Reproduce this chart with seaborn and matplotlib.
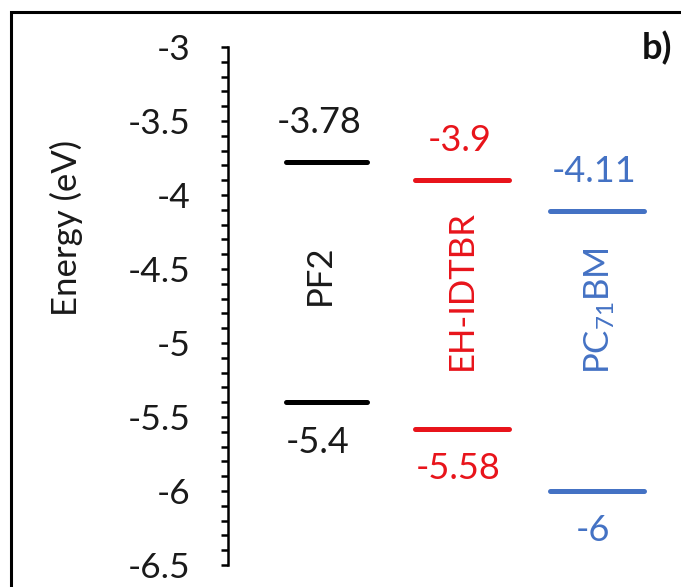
import numpy as np
import pandas as pd
import matplotlib
matplotlib.use("Agg")
import matplotlib.pyplot as plt
from matplotlib.patches import Rectangle
from matplotlib.ticker import MultipleLocator
import seaborn as sns

# Niveles de energia (eV)
materials = ["PF2", "EH-IDTBR", "PC71BM"]
labels = ["PF2", "EH-IDTBR", r"PC$_{71}$BM"]
lumo = [-3.78, -3.9, -4.11]
homo = [-5.4, -5.58, -6.0]
lumo_txt = ["-3.78", "-3.9", "-4.11"]
homo_txt = ["-5.4", "-5.58", "-6"]
colors = ["#000000", "#E8141B", "#4472C4"]

sns.set_style("ticks")
plt.rcParams["font.family"] = ["Lato", "DejaVu Sans"]
plt.rcParams["mathtext.fontset"] = "custom"
plt.rcParams["mathtext.rm"] = "Lato"
plt.rcParams["mathtext.it"] = "Lato:italic"

# segmentos horizontales en formato largo
half_w = [0.30, 0.35, 0.35]
rows = []
for i, m in enumerate(materials):
    for lvl, y in (("lumo", lumo[i]), ("homo", homo[i])):
        rows.append({"mat": m, "lvl": m + lvl, "x": i - half_w[i], "E": y})
        rows.append({"mat": m, "lvl": m + lvl, "x": i + half_w[i], "E": y})
df = pd.DataFrame(rows)

fig = plt.figure(figsize=(6.81, 5.87), dpi=100)
ax = fig.add_axes([228 / 681, 22 / 587, 447 / 681, 518 / 587])

sns.lineplot(data=df, x="x", y="E", hue="mat", units="lvl", estimator=None,
             palette=dict(zip(materials, colors)), lw=3.6,
             solid_capstyle="round", legend=False, ax=ax)

ax.set_xlim(-0.733, 2.578)
ax.set_ylim(-6.5, -3)
ax.yaxis.set_major_locator(MultipleLocator(0.5))
ax.yaxis.set_minor_locator(MultipleLocator(0.1))
ax.yaxis.set_major_formatter(plt.FuncFormatter(lambda v, p: f"{v:g}"))
ax.tick_params(axis="y", which="both", length=5, width=1.8, direction="out",
               pad=22, labelsize=25.5, color="black", labelcolor="#1a1a1a")
ax.spines["left"].set_linewidth(1.8)
ax.spines["left"].set_color("black")
for s in ["top", "right", "bottom"]:
    ax.spines[s].set_visible(False)
ax.set_xticks([])
ax.set_xlabel("")
ax.set_ylabel("Energy (eV)", fontsize=25, color="#1a1a1a")
ax.yaxis.set_label_coords(-0.325, 0.65)

label_pos = [(-0.05, -4.54), (1.0, -4.64), (2.02, -4.78)]
for i in range(3):
    c = colors[i] if i else "#1a1a1a"
    ax.text(i - 0.06 if i == 0 else i - 0.02, lumo[i] + 0.2, lumo_txt[i],
            color=c, fontsize=26, ha="center", va="baseline")
    ax.text(i - 0.07 if i == 0 else i - 0.03, homo[i] - 0.34, homo_txt[i],
            color=c, fontsize=26, ha="center", va="baseline")
    lx, ly = label_pos[i]
    ax.text(lx, ly, labels[i], color=c, fontsize=25,
            rotation=90, ha="center", va="center")

fig.text(657 / 681, 1 - 48 / 587, "b)", fontsize=26, fontweight="bold",
         ha="center", va="center", color="#111111")

# marco exterior
fig.patches.append(Rectangle((11 / 681, -0.1), 1.2, 1.1 - 12 / 587,
                             transform=fig.transFigure, fill=False,
                             lw=2.2, ec="black", clip_on=False))

fig.savefig("out.png", dpi=100)
